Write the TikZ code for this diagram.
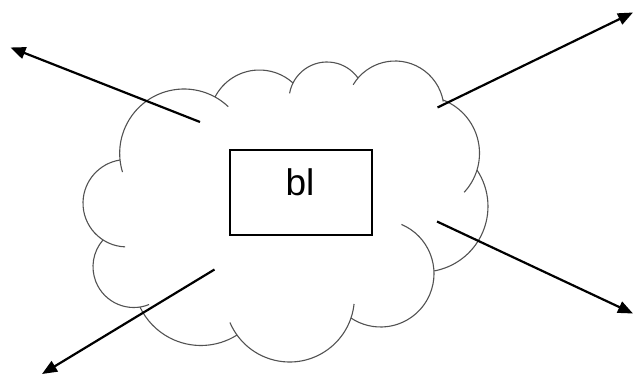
\documentclass[tikz,border=0pt]{standalone}
\usepackage{fontspec}
\setmainfont{Liberation Sans}
\usetikzlibrary{arrows.meta}
\tikzset{
  cloudline/.style={draw=black!68, line width=1.1pt},
  arrowline/.style={draw=black, line width=2.2pt, -{Triangle[length=15pt,width=12pt]}},
  textbox/.style={draw=black, line width=1.6pt, minimum width=142pt, minimum height=85pt, inner sep=0pt}
}
\newcommand\cloudarc[5]{\draw[cloudline] (#1,#2) ++(#3:#5) arc[start angle=#3, end angle=#4, radius=#5];}
\begin{document}
\begin{tikzpicture}[x=1pt,y=-1pt]
\useasboundingbox (0,0) rectangle (633,375);
% cloud
\cloudarc{126.7}{203.2}{92}{261.2}{43.7}
\cloudarc{184}{153.3}{163}{313.5}{64.3}
\cloudarc{259.4}{120}{207.4}{312.2}{50}
\cloudarc{327}{100}{190}{324.6}{38}
\cloudarc{395.1}{109.9}{211}{350}{48.9}
\cloudarc{422.3}{153.3}{291.2}{403}{57.2}
\cloudarc{422.4}{206.4}{326.3}{439.8}{65.6}
\cloudarc{380.6}{273.6}{-67}{123.7}{53.4}
\cloudarc{289.6}{297.2}{6}{157}{64.8}
\cloudarc{200.9}{278}{57.7}{154.5}{67.5}
\cloudarc{133.8}{266.7}{68}{220.9}{40.8}
% box
\node[textbox] (box) at (301,192.5) {};
\node[anchor=base, font=\fontsize{37}{40}\selectfont, inner sep=0pt] (lbl) at (300,195) {bl};
% arrow coordinates
\coordinate (s1) at (200,122);
\coordinate (t1) at (10.5,47.5);
\coordinate (s2) at (437.5,107.5);
\coordinate (t2) at (633,12.5);
\coordinate (s3) at (437,221.5);
\coordinate (t3) at (633,313.5);
\coordinate (s4) at (214.5,269.5);
\coordinate (t4) at (42,374);
\draw[arrowline] (s1) -- (t1);
\draw[arrowline] (s2) -- (t2);
\draw[arrowline] (s3) -- (t3);
\draw[arrowline] (s4) -- (t4);
\end{tikzpicture}
\end{document}
